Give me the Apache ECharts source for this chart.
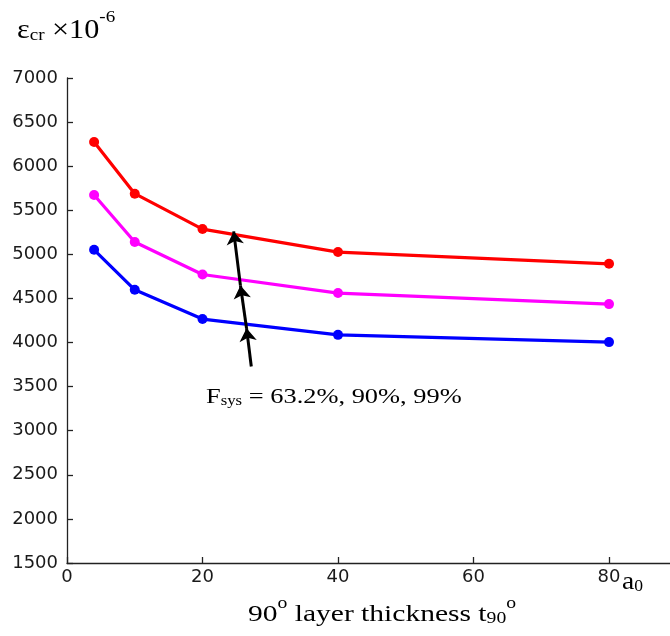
<!DOCTYPE html>
<html>
<head>
<meta charset="utf-8">
<script src="https://cdn.jsdelivr.net/npm/echarts@6/dist/echarts.min.js"></script>
<style>
  html, body { margin: 0; padding: 0; background: #fff; }
  #chart { width: 670px; height: 636px; }
</style>
</head>
<body>
<div id="chart"></div>
<script>
// Layer thickness values (x) shared by all curves
const thickness = [4, 10, 20, 40, 80];

// Critical strain (×10^-6) for each system failure probability
const strain632 = [5052, 4598, 4266, 4087, 4005];
const strain90  = [5673, 5140, 4772, 4561, 4436];
const strain99  = [6275, 5688, 5287, 5026, 4893];

const seriesNames  = ['63.2%', '90%', '99%'];
const seriesColors = ['#0000ff', '#ff00ff', '#ff0000'];

// Arrow running across the curves in the direction of increasing F_sys
const arrowPath = [[27.2, 3728], [26.5, 4163], [25.6, 4647], [24.6, 5260]];

const serif = '"Liberation Serif", "Times New Roman", serif';
const tickFont = '"DejaVu Sans", Arial, sans-serif';

function pairs(xs, ys) { return xs.map((x, i) => [x, ys[i]]); }

const curves = [strain632, strain90, strain99].map((vals, i) => ({
  name: seriesNames[i],
  type: 'line',
  data: pairs(thickness, vals),
  symbol: 'circle',
  symbolSize: 10,
  lineStyle: { color: seriesColors[i], width: 3.2 },
  itemStyle: { color: seriesColors[i] },
  animation: false,
  z: 3
}));

const arrowSegments = [];
for (let i = 0; i < arrowPath.length - 1; i++) {
  arrowSegments.push({ coords: [arrowPath[i], arrowPath[i + 1]] });
}

// rich-text styles: base, subscript, superscript
function richStyles(base, small) {
  return {
    b: { fontFamily: serif, fontSize: base, fill: '#000', verticalAlign: 'bottom', lineHeight: Math.round(base * 1.3) },
    s: { fontFamily: serif, fontSize: small, fill: '#000', verticalAlign: 'bottom', lineHeight: Math.round(small * 1.25) },
    p: { fontFamily: serif, fontSize: small, fill: '#000', verticalAlign: 'top', lineHeight: Math.round(small * 0.95) }
  };
}

const chart = echarts.init(document.getElementById('chart'), null, { renderer: 'canvas' });
chart.setOption({
  animation: false,
  backgroundColor: '#fff',
  grid: { left: 67, top: 78, right: 0, bottom: 73, containLabel: false },
  xAxis: {
    type: 'value', min: 0, max: 89, interval: 20,
    axisLine: { show: true, lineStyle: { color: '#222', width: 1.3 } },
    axisTick: { show: true, inside: true, length: 6, lineStyle: { color: '#222', width: 1.3 } },
    axisLabel: {
      color: '#1a1a1a', fontFamily: tickFont, fontSize: 18, margin: 5,
      showMaxLabel: false,
      formatter: v => (v % 20 === 0 && v <= 80 ? String(v) : '')
    },
    splitLine: { show: false }
  },
  yAxis: {
    type: 'value', min: 1500, max: 7000, interval: 500,
    axisLine: { show: true, lineStyle: { color: '#222', width: 1.3 } },
    axisTick: { show: true, inside: true, length: 6, lineStyle: { color: '#222', width: 1.3 } },
    axisLabel: { color: '#1a1a1a', fontFamily: tickFont, fontSize: 18, margin: 9, formatter: v => String(v) },
    splitLine: { show: false }
  },
  series: curves.concat([{
    type: 'lines',
    coordinateSystem: 'cartesian2d',
    data: arrowSegments,
    symbol: ['none', 'arrow'],
    symbolSize: [8, 13],
    lineStyle: { color: '#000', width: 3, opacity: 1, curveness: 0 },
    animation: false,
    z: 5
  }]),
  graphic: [
    {
      type: 'text', x: 17, y: 9, scaleX: 1.12,
      style: { text: '{b|ε}{s|cr}{b| ×10}{p|-6}', rich: richStyles(27, 17) }
    },
    {
      type: 'text', x: 206, y: 379, scaleX: 1.2,
      style: { text: '{b|F}{s|sys}{b| = 63.2%, 90%, 99%}', rich: richStyles(22, 14) }
    },
    {
      type: 'text', x: 248, y: 596, scaleX: 1.23,
      style: { text: '{b|90}{p|o}{b| layer thickness t}{s|90}{p|o}', rich: richStyles(24, 16) }
    },
    {
      type: 'text', x: 622, y: 562, scaleX: 1.1,
      style: { text: '{b|a}{s|0}', rich: richStyles(25, 16) }
    }
  ]
});
</script>
</body>
</html>
